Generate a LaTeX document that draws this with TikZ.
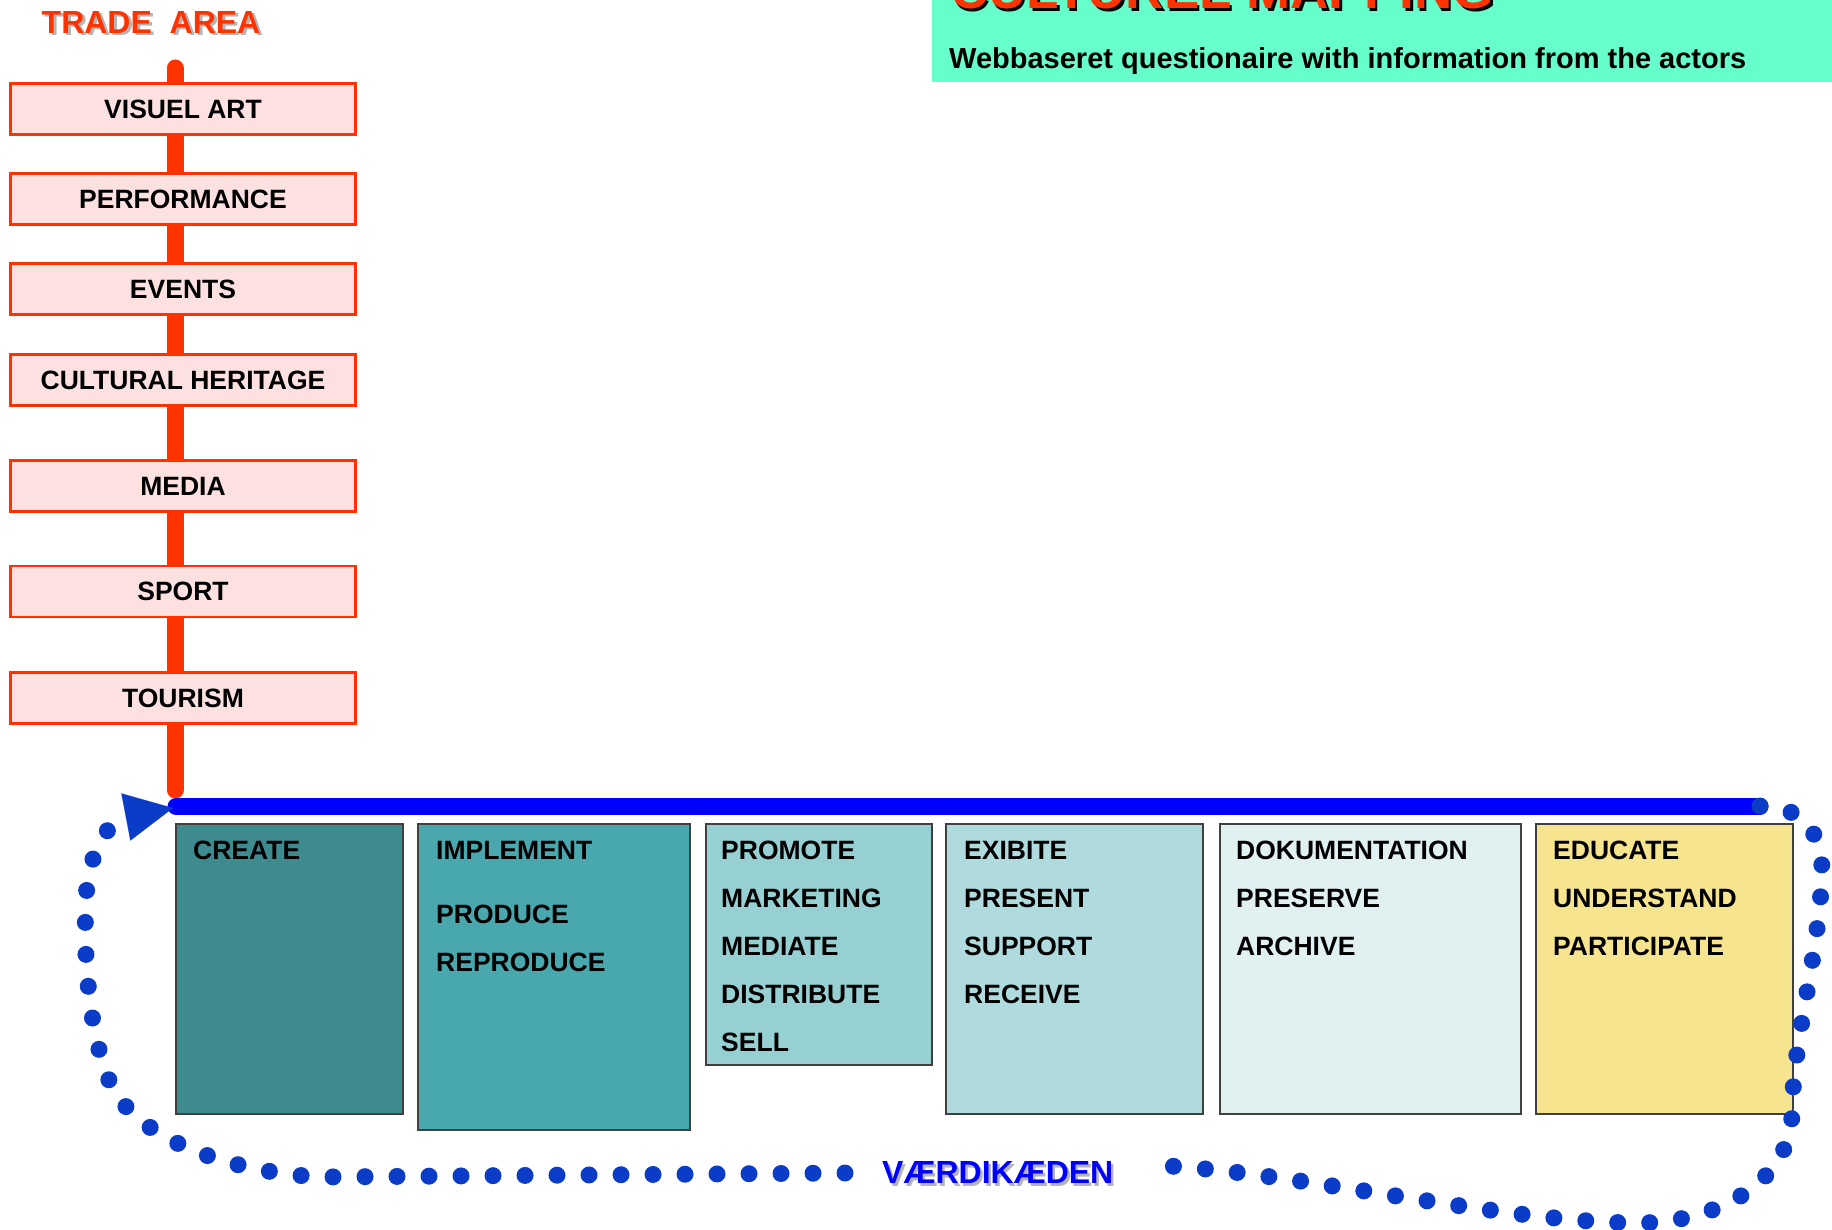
\documentclass[tikz,border=0pt]{standalone}
\usepackage{fontspec}
\setmainfont{Liberation Sans}
\usetikzlibrary{arrows.meta}
\definecolor{tradered}{HTML}{FF3300}
\definecolor{pinkfill}{HTML}{FDE0E0}
\definecolor{hdrgreen}{HTML}{66FFCC}
\definecolor{chainblue}{HTML}{0000FF}
\definecolor{dotblue}{HTML}{0A3CC8}
\definecolor{shadowgray}{HTML}{B4B4B4}
\definecolor{cA}{HTML}{3E8B8F}
\definecolor{cB}{HTML}{48A8AE}
\definecolor{cC}{HTML}{96D0D2}
\definecolor{cD}{HTML}{B0DBDE}
\definecolor{cE}{HTML}{E1F0F1}
\definecolor{cF}{HTML}{F7E48F}
\newcommand\myfs[1]{\fontsize{#1}{#1}\selectfont\bfseries}
\begin{document}
\begin{tikzpicture}[x=1pt,y=-1pt,
  tradebox/.style={draw=tradered, line width=2.5pt, fill=pinkfill, minimum width=345pt, minimum height=51pt, inner sep=0pt, font=\myfs{26.5}},
  chainbox/.style={draw=black!75, line width=1.5pt, anchor=north west, inner sep=0pt},
  chaintext/.style={anchor=base west, inner sep=0pt, font=\myfs{26.5}},
  redline/.style={draw=tradered, line width=17pt, line cap=round},
  blueline/.style={draw=chainblue, line width=17pt, line cap=round},
  dotpath/.style={draw=dotblue, line width=17pt, line cap=round, dash pattern=on 0pt off 32pt},
  plain/.style={anchor=base west, inner sep=0pt}
]
\useasboundingbox (0,0) rectangle (1832,1230);
\clip (0,0) rectangle (1832,1230);
\fill[white] (0,0) rectangle (1832,1230);

% header
\fill[hdrgreen] (932,0) rectangle (1832,82);
\node[plain, text=black, font=\myfs{53}] (titleshadow) at (952.5,11.5) {CULTUREL MAPPING};
\node[plain, text=tradered, font=\myfs{53}] (title) at (950,9) {CULTUREL MAPPING};
\node[plain, font=\myfs{29}] (subtitle) at (949,68.5) {Webbaseret questionaire with information from the actors};

% trade area title
\node[plain, text=shadowgray, font=\myfs{32}] (tradeshadow) at (44.5,36) {TRADE\ \ AREA};
\node[plain, text=tradered, font=\myfs{32}] (tradetitle) at (41.5,33.5) {TRADE\ \ AREA};

% red vertical line
\coordinate (redtop) at (175,68);
\coordinate (redbot) at (175,790);
\draw[redline] (redtop) -- (redbot);

% trade boxes
\node[tradebox] (visuel) at (183,109) {VISUEL ART};
\node[tradebox] (perf) at (183,199) {PERFORMANCE};
\node[tradebox] (events) at (183,289) {EVENTS};
\node[tradebox] (heritage) at (183,380) {CULTURAL HERITAGE};
\node[tradebox] (media) at (183,486) {MEDIA};
\node[tradebox] (sport) at (183,591.5) {SPORT};
\node[tradebox] (tourism) at (183,698) {TOURISM};

% blue horizontal line
\coordinate (blueleft) at (176,806.5);
\coordinate (blueright) at (1760,806.5);
\draw[blueline] (blueleft) -- (blueright);

% value chain boxes
\node[chainbox, fill=cA, minimum width=227pt, minimum height=290pt] (create) at (175,823) {};
\node[chainbox, fill=cB, minimum width=272pt, minimum height=306pt] (implement) at (417,823) {};
\node[chainbox, fill=cC, minimum width=226pt, minimum height=241pt] (promote) at (705,823) {};
\node[chainbox, fill=cD, minimum width=257pt, minimum height=290pt] (exibite) at (945,823) {};
\node[chainbox, fill=cE, minimum width=301pt, minimum height=290pt] (dokum) at (1219,823) {};
\node[chainbox, fill=cF, minimum width=257pt, minimum height=290pt] (educate) at (1535,823) {};

% texts in boxes
\node[chaintext] (tcreate) at (193,859) {CREATE};
\node[chaintext] (timpl) at (436,859) {IMPLEMENT};
\node[chaintext] (tprod) at (436,923) {PRODUCE};
\node[chaintext] (treprod) at (436,971) {REPRODUCE};
\node[chaintext] (tprom) at (721,859) {PROMOTE};
\node[chaintext] (tmark) at (721,907) {MARKETING};
\node[chaintext] (tmed) at (721,955) {MEDIATE};
\node[chaintext] (tdist) at (721,1003) {DISTRIBUTE};
\node[chaintext] (tsell) at (721,1051) {SELL};
\node[chaintext] (texib) at (964,859) {EXIBITE};
\node[chaintext] (tpres) at (964,907) {PRESENT};
\node[chaintext] (tsupp) at (964,955) {SUPPORT};
\node[chaintext] (trec) at (964,1003) {RECEIVE};
\node[chaintext] (tdok) at (1236,859) {DOKUMENTATION};
\node[chaintext] (tpreserve) at (1236,907) {PRESERVE};
\node[chaintext] (tarch) at (1236,955) {ARCHIVE};
\node[chaintext] (tedu) at (1553,859) {EDUCATE};
\node[chaintext] (tund) at (1553,907) {UNDERSTAND};
\node[chaintext] (tpart) at (1553,955) {PARTICIPATE};

% value chain label
\node[plain, text=shadowgray, font=\myfs{32}] (vshadow) at (884.5,1186) {VÆRDIKÆDEN};
\node[plain, text=chainblue, font=\myfs{32}] (vlabel) at (882,1183.5) {VÆRDIKÆDEN};

% dotted cycle
\coordinate (dotstart) at (1760,806);
\coordinate (dotright) at (1145,1165);
\coordinate (dotleft) at (845,1173);
\coordinate (arrowtip) at (173,808);
\draw[dotpath] (dotstart) .. controls (1800,806) and (1823,830) .. (1822,875)
  .. controls (1818,960) and (1793,1040) .. (1792,1113)
  .. controls (1791,1180) and (1720,1222) .. (1640,1223)
  .. controls (1500,1223) and (1280,1168) .. (dotright);
\draw[dotpath, -{Triangle[length=48pt, width=48pt, line width=0.1pt]}] (dotleft) -- (320,1177)
  .. controls (230,1172) and (140,1140) .. (112,1087)
  .. controls (90,1040) and (83,960) .. (86,900)
  .. controls (88,850) and (110,820) .. (arrowtip);
\end{tikzpicture}
\end{document}
